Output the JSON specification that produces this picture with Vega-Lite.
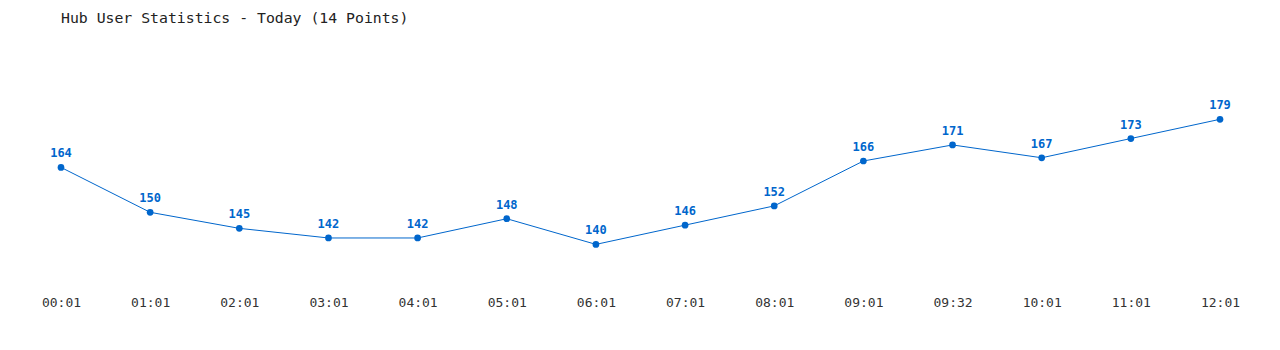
{
  "$schema": "https://vega.github.io/schema/vega-lite/v6.json",
  "autosize": {"type": "none"},
  "padding": {"left": 61, "top": 84, "right": 60, "bottom": 57},
  "width": 1159,
  "height": 208.5,
  "background": "#ffffff",
  "title": {
    "text": "Hub User Statistics - Today (14 Points)",
    "anchor": "start",
    "frame": "group",
    "offset": 58,
    "font": "DejaVu Sans Mono",
    "fontSize": 14.8,
    "fontWeight": "normal",
    "color": "#222222"
  },
  "config": {"view": {"stroke": null}},
  "data": {
    "values": [
      {"time": "00:01", "users": 164},
      {"time": "01:01", "users": 150},
      {"time": "02:01", "users": 145},
      {"time": "03:01", "users": 142},
      {"time": "04:01", "users": 142},
      {"time": "05:01", "users": 148},
      {"time": "06:01", "users": 140},
      {"time": "07:01", "users": 146},
      {"time": "08:01", "users": 152},
      {"time": "09:01", "users": 166},
      {"time": "09:32", "users": 171},
      {"time": "10:01", "users": 167},
      {"time": "11:01", "users": 173},
      {"time": "12:01", "users": 179}
    ]
  },
  "encoding": {
    "x": {
      "field": "time",
      "type": "ordinal",
      "sort": null,
      "scale": {"type": "point", "padding": 0},
      "axis": {
        "title": null,
        "domain": false,
        "ticks": false,
        "tickSize": 0,
        "grid": false,
        "labelAngle": 0,
        "labelPadding": 4,
        "labelFont": "DejaVu Sans Mono",
        "labelFontSize": 13,
        "labelColor": "#333333"
      }
    },
    "y": {
      "field": "users",
      "type": "quantitative",
      "scale": {"domain": [125, 190], "zero": false, "nice": false},
      "axis": null
    }
  },
  "layer": [
    {"mark": {"type": "line", "color": "#0066cc", "strokeWidth": 1}},
    {"mark": {"type": "circle", "color": "#0066cc", "size": 45, "opacity": 1}},
    {
      "mark": {
        "type": "text",
        "color": "#0066cc",
        "font": "DejaVu Sans Mono",
        "fontSize": 12,
        "fontWeight": "bold",
        "dy": -14
      },
      "encoding": {"text": {"field": "users", "type": "quantitative"}}
    }
  ]
}
